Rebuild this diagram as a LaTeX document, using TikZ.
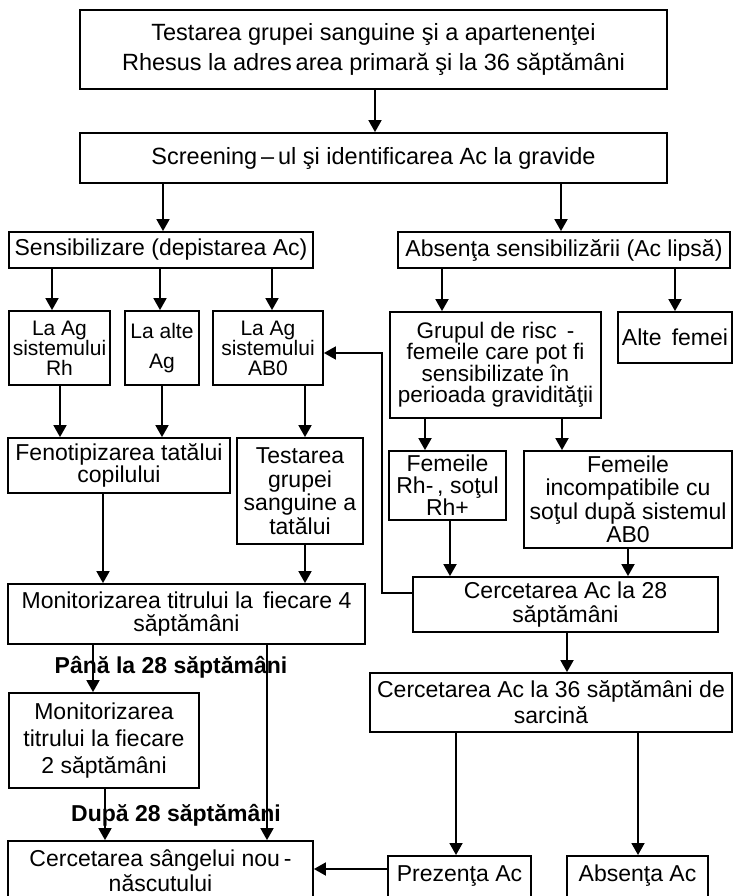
\documentclass[tikz,border=0pt]{standalone}
\usepackage{fontspec}
\setmainfont{Liberation Sans}
\usetikzlibrary{arrows.meta}

\begin{document}
\begin{tikzpicture}[x=1pt,y=-1pt,
  box/.style={draw, line width=1.8pt, inner sep=0pt, align=center,
    font=\fontsize{23}{23.5}\selectfont},
  small/.style={font=\fontsize{21}{19.5}\selectfont},
  arr/.style={line width=1.8pt, -{Triangle[width=13pt,length=12pt]}},
  lbl/.style={font=\fontsize{23}{24}\selectfont\bfseries, inner sep=0pt}]
\useasboundingbox (0,0) rectangle (733,896);
\clip (0,0) rectangle (733,896);

% header boxes
\node[box, minimum width=587, minimum height=79, font=\fontsize{23.5}{30}\selectfont] (top) at (373.5,49.5)
  {Testarea grupei sanguine şi a apartenenţei\\Rhesus la adres\,area primară şi la 36 săptămâni};
\node[box, minimum width=587, minimum height=50, font=\fontsize{23.5}{30}\selectfont] (scr) at (373.5,158)
  {Screening\,–\,ul şi identificarea Ac la gravide};

% two main branches
\node[box, minimum width=304, minimum height=36] (sens) at (161,250) {Sensibilizare (depistarea Ac)};
\node[box, minimum width=332, minimum height=36] (abs) at (564,250) {Absenţa sensibilizării (Ac lipsă)};

% sensitisation sub-cases
\node[box, small, minimum width=101, minimum height=74] (rh) at (59.5,348) {La Ag\\sistemului\\Rh};
\node[box, small, minimum width=74, minimum height=74, font=\fontsize{21}{30}\selectfont] (alte) at (162,348) {La alte\\Ag};
\node[box, small, minimum width=110, minimum height=74] (ab0) at (268,348) {La Ag\\sistemului\\AB0};

% no sensitisation
\node[box, minimum width=211, minimum height=106, font=\fontsize{22.5}{21}\selectfont] (grup) at (495.5,365)
  {Grupul de risc \,-\\femeile care pot fi\\sensibilizate în\\perioada gravidităţii};
\node[box, minimum width=114, minimum height=51] (altef) at (675,337.5) {Alte \,femei};

% father testing
\node[box, minimum width=222, minimum height=55, font=\fontsize{23}{22}\selectfont] (feno) at (119,465.5)
  {Fenotipizarea tatălui\\copilului};
\node[box, minimum width=126, minimum height=106] (testg) at (300,491)
  {Testarea\\grupei\\sanguine a\\tatălui};

% risk group sub-cases
\node[box, minimum width=117, minimum height=69, font=\fontsize{23}{22}\selectfont] (frh) at (447.5,485.5)
  {Femeile\\Rh-\,, soţul\\Rh+};
\node[box, minimum width=208, minimum height=97] (finc) at (628,499.5)
  {Femeile\\incompatibile cu\\soţul după sistemul\\AB0};

% monitoring and antibody checks
\node[box, minimum width=357, minimum height=60] (mon4) at (186.5,614)
  {Monitorizarea titrului la \,fiecare 4\\săptămâni};
\node[box, minimum width=305, minimum height=55] (c28) at (565.5,604.5)
  {Cercetarea Ac la 28\\săptămâni};
\node[box, minimum width=362, minimum height=59, font=\fontsize{23}{26}\selectfont] (c36) at (551,702.5)
  {Cercetarea Ac la 36 săptămâni de\\sarcină};
\node[box, minimum width=190, minimum height=95, font=\fontsize{23}{27}\selectfont] (mon2) at (104,740.5)
  {Monitorizarea\\titrului la fiecare\\2 săptămâni};

% bottom row (runs past the lower edge)
\node[box, minimum width=305, minimum height=59, font=\fontsize{23}{25}\selectfont] (csang) at (160.5,870.5)
  {Cercetarea sângelui nou\,-\\născutului};
\node[box, anchor=north, minimum width=143, text height=26pt, text depth=40pt] (prez) at (459.5,855) {Prezenţa Ac};
\node[box, anchor=north, minimum width=141, text height=26pt, text depth=40pt] (absac) at (637.5,855) {Absenţa Ac};

% connectors
\draw[arr] (top.south -| 375,0) -- (scr.north -| 375,0);
\draw[arr] (scr.south -| 163,0) -- (sens.north -| 163,0);
\draw[arr] (scr.south -| 561,0) -- (abs.north -| 561,0);
\draw[arr] (sens.south -| 52,0) -- (rh.north -| 52,0);
\draw[arr] (sens.south -| 160,0) -- (alte.north -| 160,0);
\draw[arr] (sens.south -| 272,0) -- (ab0.north -| 272,0);
\draw[arr] (abs.south -| 442,0) -- (grup.north -| 442,0);
\draw[arr] (abs.south -| 675,0) -- (altef.north -| 675,0);
\draw[arr] (rh.south -| 60,0) -- (feno.north -| 60,0);
\draw[arr] (alte.south -| 162,0) -- (feno.north -| 162,0);
\draw[arr] (ab0.south -| 305,0) -- (testg.north -| 305,0);
\draw[arr] (grup.south -| 425,0) -- (frh.north -| 425,0);
\draw[arr] (grup.south -| 562,0) -- (finc.north -| 562,0);
\draw[arr] (feno.south -| 103,0) -- (mon4.north -| 103,0);
\draw[arr] (testg.south -| 305,0) -- (mon4.north -| 305,0);
\draw[arr] (frh.south -| 450,0) -- (c28.north -| 450,0);
\draw[arr] (finc.south -| 628,0) -- (c28.north -| 628,0);
\draw[arr] (c28.west |- 0,593) -| (382,353) -- (ab0.east |- 0,353);
\draw[arr] (c28.south -| 567,0) -- (c36.north -| 567,0);
\draw[arr] (mon4.south -| 93,0) -- (mon2.north -| 93,0);
\draw[arr] (mon4.south -| 267,0) -- (csang.north -| 267,0);
\draw[arr] (mon2.south -| 105,0) -- (csang.north -| 105,0);
\draw[arr] (c36.south -| 456,0) -- (prez.north -| 456,0);
\draw[arr] (c36.south -| 638,0) -- (absac.north -| 638,0);
\draw[arr] (prez.west |- 0,869) -- (csang.east |- 0,869);

% branch labels
\node[lbl] (pana) at (171,667) {Până la 28 săptămâni};
\node[lbl] (dupa) at (176,815) {După 28 săptămâni};
\end{tikzpicture}
\end{document}
